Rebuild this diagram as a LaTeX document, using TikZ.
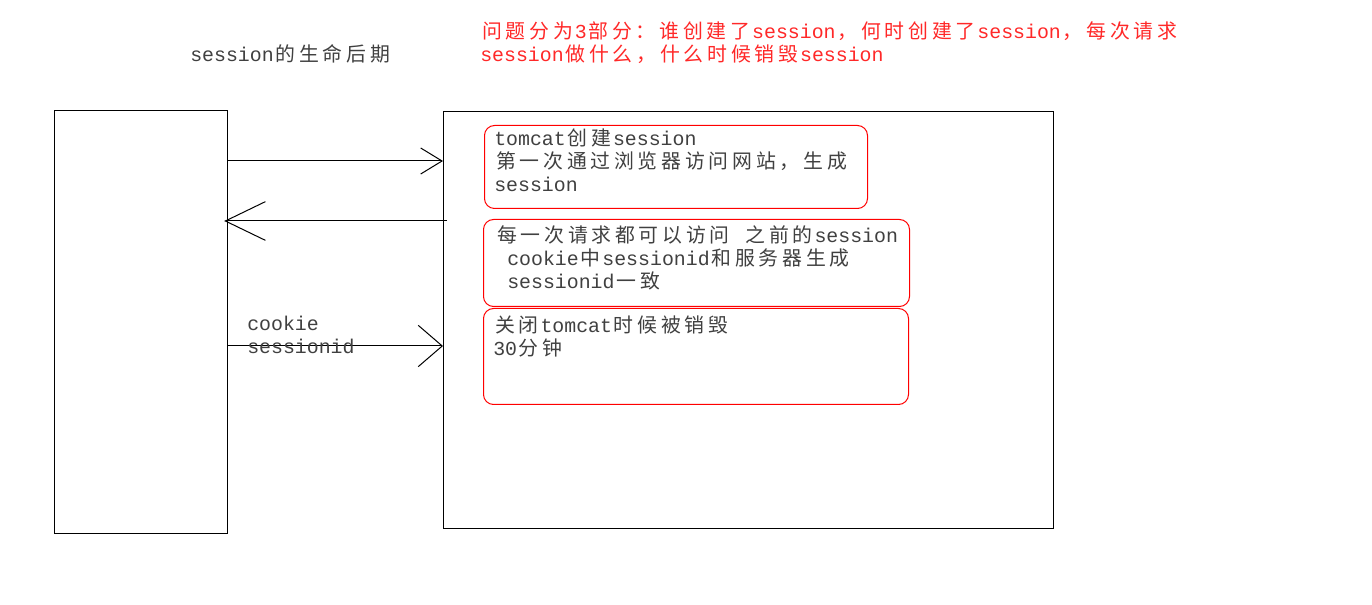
\documentclass[tikz,border=0pt]{standalone}
\usepackage{fontspec}
\usetikzlibrary{arrows.meta}
\setmainfont{Liberation Mono}
\newfontfamily\cjk[LetterSpace=19]{Noto Sans CJK SC}
\newcommand\zh[1]{\kern1.4pt{\cjk #1}\kern1.4pt}
\definecolor{txtgray}{RGB}{64,64,64}
\definecolor{notered}{RGB}{255,40,40}
\tikzset{
  txt/.style={inner sep=0pt, anchor=north west, align=left, text=txtgray,
    font=\fontsize{14.9pt}{17.25pt}\selectfont},
  redtxt/.style={txt, text=notered},
  redbox/.style={draw=red, line width=0.75pt, rounded corners=7.5pt, anchor=north west, inner sep=0pt},
  bigbox/.style={draw, line width=0.9pt, anchor=north west, inner sep=0pt},
  msg/.style={line width=0.75pt},
}
\begin{document}
\begin{tikzpicture}[x=0.75pt,y=-0.75pt]
\useasboundingbox (0,0) rectangle (1372,605);
% titles
\node[txt] (title) at (190,44) {session\zh{的生命后期}};
\node[redtxt] (question) at (480,21) {\zh{问题分为}3\zh{部分：谁创建了}session\zh{，何时创建了}session\zh{，每次请求}\\session\zh{做什么，什么时候销毁}session};
% browser and server
\node[bigbox, minimum width=129.75pt, minimum height=317.25pt] (browser) at (54,110) {};
\node[bigbox, minimum width=457.5pt, minimum height=312.75pt] (server) at (443,111) {};
% notes in the server
\node[redbox, minimum width=287.25pt, minimum height=62.25pt] (create) at (484,125) {};
\node[redbox, minimum width=319.5pt, minimum height=65.25pt] (request) at (483,219) {};
\node[redbox, minimum width=318.75pt, minimum height=72pt] (destroy) at (483,308) {};
\node[txt] (createtxt) at ([shift={(10,4)}]create.north west) {tomcat\zh{创建}session\\\zh{第一次通过浏览器访问网站，生成}\\session};
\node[txt] (requesttxt) at ([shift={(12,6)}]request.north west) {\zh{每一次请求都可以访问}\hspace{9pt}\zh{之前的}session\\\hspace*{9pt}cookie\zh{中}sessionid\zh{和服务器生成}\\\hspace*{9pt}sessionid\zh{一致}};
\node[txt] (destroytxt) at ([shift={(10,8)}]destroy.north west) {\zh{关闭}tomcat\zh{时候被销毁}\\30\zh{分钟}};
% messages
\draw[msg, -{Straight Barb[length=16pt,width=19.5pt]}] (browser.east |- 0,161) -- (server.west |- 0,161);
\draw[msg, -{Straight Barb[length=30pt,width=29pt]}, shorten <=-3pt, shorten >=-3pt] (server.west |- 0,221) -- (browser.east |- 0,221);
\draw[msg, -{Straight Barb[length=18pt,width=31pt]}] (browser.east |- 0,346) -- (server.west |- 0,346);
\node[txt] (cookielbl) at (247,316) {cookie\\sessionid};
\end{tikzpicture}
\end{document}
